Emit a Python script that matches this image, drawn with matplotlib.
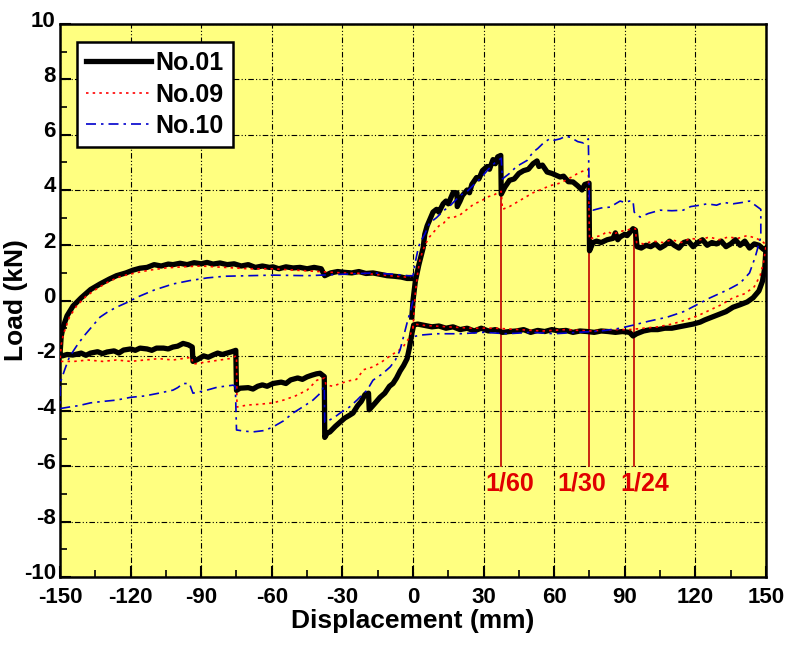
import numpy as np
import matplotlib
matplotlib.use('Agg')
import matplotlib.pyplot as plt
from matplotlib.ticker import MultipleLocator
from matplotlib.transforms import ScaledTranslation

plt.rcParams['font.family'] = ['Liberation Sans', 'DejaVu Sans']
plt.rcParams['font.weight'] = 'bold'
plt.rcParams['axes.unicode_minus'] = False

# ---- No.01 (black) ----
no01_push = [(-0.5, -0.6), (0, 0), (1, 0.7), (2.5, 1.3), (4.3, 1.9), (5, 2.4), (6, 2.7), (7, 2.9),
             (8.5, 3.2), (10, 3.3), (11, 3.2), (12.8, 3.5), (14, 3.6), (15, 3.5), (17, 3.9), (18.7, 3.9),
             (18.8, 3.4), (20, 3.6), (21, 3.8), (23, 4.0), (24, 3.9), (25, 4.2), (27, 4.45), (28, 4.4),
             (29.5, 4.7), (31.5, 4.85), (32.5, 4.75), (34, 5.1), (35, 4.95), (36, 5.2), (37.3, 5.25),
             (37.5, 3.85), (39, 4.1), (41, 4.35), (43, 4.4), (45, 4.6), (47, 4.7), (49, 4.75), (51, 4.95),
             (52.7, 5.05), (53.5, 4.85), (55, 4.9), (57, 4.65), (59, 4.6), (62.5, 4.47), (64, 4.5),
             (66, 4.3), (68, 4.29), (70, 4.15), (71.8, 4.0), (73, 4.2), (74.8, 4.25), (75, 1.8),
             (76.5, 2.1), (78, 2.15), (80, 2.1), (82.5, 2.2), (85, 2.25), (86, 2.45), (87, 2.2), (88, 2.3),
             (90, 2.4), (91, 2.35), (93.5, 2.6), (94.5, 2.55), (95.2, 1.95), (97, 1.9), (99, 2.0),
             (101, 1.95), (103, 2.05), (105, 1.9), (107, 2.0), (109, 2.15), (111, 2.0), (113, 1.9),
             (115, 2.1), (117, 2.15), (119, 1.95), (121, 2.1), (123, 2.2), (125, 2.0), (127, 2.1),
             (129, 2.05), (131, 2.15), (133, 1.95), (135, 2.05), (137, 2.2), (139, 2.0), (141, 2.15),
             (143, 1.9), (145, 2.05), (147, 2.0), (149, 1.85), (150, 1.9)]
no01_unload_pos = [(150, 1.9), (149.5, 1.2), (148.5, 0.7), (147, 0.35), (144.5, 0.1), (142, -0.05),
                   (139, -0.15), (136, -0.24), (133, -0.4), (130, -0.5), (127, -0.6), (124, -0.7),
                   (122, -0.78), (119, -0.85), (116, -0.9), (113, -0.95), (110, -1.0), (107, -1.0),
                   (104, -1.05), (101, -1.05), (98, -1.1), (95, -1.2), (93.5, -1.28), (92, -1.15),
                   (89, -1.12), (86, -1.15), (83, -1.12), (80, -1.1), (77, -1.15), (74, -1.12), (71, -1.1),
                   (68, -1.15), (65, -1.08), (62, -1.1), (59, -1.05), (56, -1.12), (53, -1.08), (50, -1.15),
                   (47, -1.05), (44, -1.1), (41, -1.12), (38, -1.15), (35, -1.05), (32, -1.1), (29, -1.0),
                   (26, -1.1), (23, -1.0), (20, -1.05), (17, -0.95), (14, -1.0), (11, -0.92), (8, -0.95),
                   (5, -0.9), (2, -0.85), (0.3, -0.88)]
no01_pull = [(0.3, -0.88), (-0.5, -1.2), (-1.5, -1.7), (-2.5, -2.1), (-4, -2.35), (-5.5, -2.55),
             (-7, -2.8), (-8.5, -3.0), (-10, -3.1), (-12, -3.35), (-14, -3.5), (-16, -3.7), (-18.6, -3.95),
             (-18.9, -3.35), (-20.4, -3.4), (-22, -3.65), (-23.5, -3.8), (-25.5, -4.07), (-27, -4.15),
             (-29, -4.25), (-31, -4.4), (-33, -4.55), (-35.3, -4.75), (-36.5, -4.8), (-37.5, -4.95),
             (-37.7, -2.75), (-39.5, -2.63), (-41, -2.65), (-43, -2.7), (-45, -2.76), (-47, -2.85),
             (-49, -2.8), (-52, -2.87), (-54, -3.0), (-56, -2.95), (-59.5, -3.0), (-62, -3.1),
             (-64, -3.05), (-66, -3.1), (-68, -3.2), (-70, -3.15), (-73.5, -3.17), (-75, -3.25),
             (-75.3, -1.8), (-77, -1.85), (-79, -1.9), (-81, -1.95), (-83, -1.9), (-85, -1.97),
             (-87, -2.05), (-89, -2.0), (-90.5, -2.08), (-92, -2.15), (-93.5, -2.2), (-93.8, -1.68),
             (-95.5, -1.6), (-97.7, -1.55), (-100, -1.65), (-102, -1.68), (-104, -1.75), (-106, -1.72),
             (-109, -1.72), (-111, -1.8), (-113, -1.75), (-116, -1.72), (-118, -1.8), (-120, -1.75),
             (-123, -1.79), (-125, -1.9), (-127, -1.82), (-130, -1.86), (-132, -1.92), (-134, -1.85),
             (-137, -1.9), (-139, -1.98), (-141, -1.9), (-144.5, -1.97), (-147, -1.95), (-149, -2.0),
             (-150, -1.95)]
no01_unload_neg = [(-150, -1.95), (-149.5, -1.3), (-148.7, -0.96), (-147, -0.55), (-144.5, -0.2),
                   (-141, 0.1), (-137, 0.4), (-133, 0.6), (-129, 0.78), (-126, 0.9), (-122, 1.0),
                   (-119, 1.1), (-116, 1.17), (-113, 1.2), (-110, 1.3), (-107, 1.25), (-104, 1.32),
                   (-102, 1.3), (-99, 1.35), (-96, 1.3), (-93, 1.37), (-90, 1.33), (-87.5, 1.38),
                   (-85, 1.32), (-82, 1.36), (-79, 1.3), (-76, 1.33), (-73, 1.25), (-70, 1.3), (-67, 1.2),
                   (-64, 1.25), (-61, 1.2), (-59.5, 1.22), (-57, 1.15), (-54, 1.22), (-51, 1.18),
                   (-48, 1.2), (-45, 1.15), (-42, 1.2), (-39, 1.15), (-37.5, 0.9), (-35, 1.0), (-32, 1.05),
                   (-29, 1.02), (-26, 1.0), (-23, 1.05), (-20, 0.98), (-17, 1.0), (-14, 0.95), (-11, 0.9),
                   (-8, 0.88), (-5, 0.85), (-2.5, 0.8), (-1, 0.8)]

# ---- No.09 (red dotted) ----
no09_push = [(0, -1.0), (1, 0.3), (2, 1.0), (3, 1.5), (5, 2.0), (7, 2.3), (9, 2.5), (11, 2.7), (13, 2.8),
             (15, 3.0), (17, 3.0), (20, 3.1), (23, 3.3), (26, 3.5), (29, 3.6), (31.5, 3.75), (34, 3.8),
             (36, 3.9), (37.5, 3.95), (38, 3.3), (41, 3.4), (44, 3.55), (47, 3.7), (51, 3.9), (54, 4.0),
             (58, 4.15), (62.5, 4.25), (66, 4.4), (69, 4.55), (71, 4.65), (73, 4.7), (74.5, 4.75),
             (75, 2.2), (77, 2.3), (80, 2.35), (82.5, 2.5), (85, 2.4), (88, 2.5), (91, 2.55), (93, 2.6),
             (94.5, 2.6), (95, 2.1), (98, 2.05), (102, 2.15), (106, 2.1), (110, 2.2), (114, 2.1),
             (118, 2.25), (122, 2.2), (126, 2.3), (130, 2.2), (134, 2.3), (138, 2.25), (142, 2.35),
             (146, 2.25), (149, 2.1), (150, 2.0)]
no09_unload_pos = [(150, 2.0), (149, 1.4), (147.5, 0.9), (145, 0.5), (141, 0.25), (136, 0.1),
                   (131, -0.15), (126, -0.35), (121, -0.55), (116, -0.7), (110, -0.85), (104, -0.95),
                   (98, -1.0), (92, -1.05), (85, -1.05), (75, -1.1), (65, -1.05), (55, -1.1), (45, -1.05),
                   (35, -1.0), (25, -1.0), (15, -0.95), (5, -0.9), (0.5, -0.85)]
no09_pull = [(0.5, -0.85), (-0.5, -1.1), (-2, -1.4), (-4, -1.65), (-6, -1.8), (-9.7, -2.0), (-13, -2.2),
             (-17, -2.4), (-21, -2.5), (-24, -2.85), (-27, -2.9), (-31, -3.0), (-34, -3.1), (-37, -3.05),
             (-37.5, -2.8), (-40.8, -2.88), (-45, -3.24), (-50, -3.45), (-55, -3.6), (-59.5, -3.7),
             (-65, -3.75), (-70.5, -3.78), (-74.8, -3.85), (-75, -2.0), (-78, -2.1), (-82, -2.15),
             (-86, -2.2), (-90, -2.25), (-93.5, -2.3), (-94, -2.05), (-98, -2.1), (-102, -2.15),
             (-108, -2.1), (-114, -2.15), (-120, -2.2), (-126, -2.15), (-132, -2.2), (-138, -2.15),
             (-144, -2.2), (-148, -2.2), (-150, -2.2)]
no09_unload_neg = [(-150, -2.2), (-149.5, -1.6), (-148.5, -1.2), (-146, -0.6), (-143, -0.2), (-139, 0.15),
                   (-134, 0.45), (-129, 0.7), (-124, 0.88), (-118, 1.0), (-112, 1.1), (-105, 1.18),
                   (-98, 1.22), (-90, 1.25), (-80, 1.2), (-70, 1.15), (-60, 1.15), (-50, 1.1), (-40, 1.05),
                   (-30, 1.0), (-20, 0.98), (-10, 0.9), (-3, 0.85), (-1, 0.85)]

# ---- No.10 (blue dash-dot) ----
no10_pull = [(0, 0), (-1, -0.35), (-2.5, -0.8), (-4, -1.3), (-5.5, -1.79), (-7.5, -2.15), (-9.7, -2.4),
             (-13, -2.65), (-17, -2.88), (-19.5, -3.24), (-21.5, -3.4), (-23.8, -3.6), (-27, -3.85),
             (-31, -4.07), (-33, -4.2), (-35, -4.3), (-37.5, -4.4), (-37.7, -3.1), (-40, -3.4),
             (-42.5, -3.6), (-46, -3.8), (-51, -4.07), (-55, -4.35), (-59.5, -4.57), (-63, -4.7),
             (-68, -4.75), (-72, -4.72), (-75, -4.68), (-75.5, -3.1), (-76.5, -3.06), (-80, -3.1),
             (-83, -3.13), (-88, -3.25), (-93.5, -3.35), (-95, -3.0), (-97.7, -3.0), (-100, -3.15),
             (-102, -3.24), (-108, -3.35), (-114, -3.45), (-120, -3.5), (-126, -3.6), (-132, -3.65),
             (-137, -3.7), (-142, -3.8), (-146, -3.85), (-149.5, -3.9), (-150, -3.9)]
no10_unload_neg = [(-150, -3.9), (-150, -3.0), (-148, -2.5), (-146, -2.04), (-143, -1.65), (-140, -1.3),
                   (-136.5, -0.95), (-133, -0.6), (-129.5, -0.4), (-126, -0.24), (-121, -0.05),
                   (-117, 0.13), (-110, 0.38), (-102, 0.6), (-95, 0.72), (-87.5, 0.82), (-80, 0.88),
                   (-70, 0.9), (-59.5, 0.92), (-45, 0.9), (-30, 0.95), (-17, 1.0), (-8, 0.95), (-2, 0.9),
                   (0, 0.9)]
no10_push = [(0, 0.9), (1, 1.4), (2, 1.8), (3, 2.1), (5, 2.4), (7, 2.8), (10, 3.0), (13, 3.25),
             (16, 3.45), (20, 3.8), (23, 3.95), (26, 4.2), (29, 4.45), (32, 4.75), (35, 5.0), (37.5, 5.15),
             (38, 4.4), (41, 4.6), (44, 4.85), (48.5, 5.07), (51, 5.37), (53, 5.5), (55.3, 5.69),
             (58, 5.85), (60, 5.8), (62.5, 5.85), (65, 5.95), (67, 5.9), (70, 5.75), (72.5, 5.7),
             (74.5, 5.85), (75, 3.3), (76.5, 3.27), (80, 3.35), (83.7, 3.38), (86, 3.5), (88, 3.6),
             (90, 3.55), (92, 3.6), (93.5, 3.6), (94, 3.2), (96.5, 3.02), (100, 3.15), (105, 3.27),
             (110, 3.25), (114.8, 3.27), (118, 3.4), (122, 3.45), (125, 3.5), (129, 3.45), (132, 3.55),
             (136, 3.5), (140, 3.55), (143, 3.6), (147.8, 3.3)]
no10_unload_pos = [(147.8, 3.3), (147.8, 2.3), (146.5, 1.9), (145.4, 1.57), (143, 1.0), (139, 0.63),
                   (133.5, 0.38), (126, 0.09), (122, -0.09), (115, -0.4), (108, -0.6), (100, -0.75),
                   (93.5, -0.89), (88, -1.0), (80, -1.1), (70, -1.15), (60, -1.2), (50, -1.15), (40, -1.2),
                   (30, -1.15), (20, -1.2), (10, -1.2), (3, -1.25), (0.5, -1.3)]

# drift angle markers
drift_x = [37.5, 75, 93.75]
drift_top = [5.2, 4.25, 2.6]
drift_labels = ['1/60', '1/30', '1/24']
drift_label_x = [41, 71.5, 98.5]


def xy(*branches):
    pts = np.array([p for b in branches for p in b])
    return pts[:, 0], pts[:, 1]


fig = plt.figure(figsize=(8, 6.52), dpi=100)
ax = fig.add_axes([0.075, 0.115, 0.8825, 0.848])
ax.set_facecolor('#FFFF80')

for dx, top in zip(drift_x, drift_top):
    ax.plot([dx, dx], [-6, top], color='#C00000', lw=1.2, zorder=2)
for lx, lab in zip(drift_label_x, drift_labels):
    ax.text(lx, -6.6, lab, color='#E00000', fontsize=18, fontweight='bold',
            ha='center', va='center')

x1, y1 = xy(no01_push, no01_unload_pos, no01_pull, no01_unload_neg)
x9, y9 = xy(no09_push, no09_unload_pos, no09_pull, no09_unload_neg)
x10, y10 = xy(no10_pull, no10_unload_neg, no10_push, no10_unload_pos)
ax.plot(x1, y1, color='black', lw=3.8, label='No.01', zorder=3, solid_joinstyle='round')
ax.plot(x9, y9, color='red', lw=1.2, ls=(0, (1.5, 2.5)), label='No.09', zorder=4)
ax.plot(x10, y10, color='#0000CC', lw=1.2, ls=(0, (6, 3, 1.5, 3)), label='No.10', zorder=5)

ax.set_xlim(-150, 150)
ax.set_ylim(-10, 10)
ax.xaxis.set_major_locator(MultipleLocator(30))
ax.xaxis.set_minor_locator(MultipleLocator(15))
ax.yaxis.set_major_locator(MultipleLocator(2))
ax.yaxis.set_minor_locator(MultipleLocator(1))
ax.tick_params(which='major', direction='in', length=8, width=1.5, labelsize=16)
ax.tick_params(axis='x', which='major', pad=7)
ax.tick_params(axis='y', which='major', pad=3)
ax.tick_params(which='minor', direction='in', length=5, width=1.2)
ax.grid(True, which='major', color='black', lw=0.8, ls=(0, (5, 2, 1, 2, 1, 2)))
for s in ax.spines.values():
    s.set_linewidth(1.8)
for lab in ax.get_xticklabels() + ax.get_yticklabels():
    lab.set_fontweight('bold')

# lift the y tick labels a little, as in the original
lift = ScaledTranslation(0, 4 / 72, fig.dpi_scale_trans)
for lab in ax.get_yticklabels():
    lab.set_transform(lab.get_transform() + lift)

ax.set_xlabel('Displacement (mm)', fontsize=19, fontweight='bold', labelpad=1)
fig.text(0.02, 0.54, 'Load (kN)', rotation=90, fontsize=19, fontweight='bold',
         ha='center', va='center')

leg = ax.legend(loc='upper left', fontsize=18, frameon=True, fancybox=False, framealpha=1,
                edgecolor='black', handlelength=2.6, handletextpad=0.2, borderpad=0.35,
                labelspacing=0.3, borderaxespad=0, bbox_to_anchor=(0.024, 0.967))
leg.get_frame().set_linewidth(1.8)
for t in leg.get_texts():
    t.set_fontweight('bold')

fig.savefig('out.png', dpi=100)
